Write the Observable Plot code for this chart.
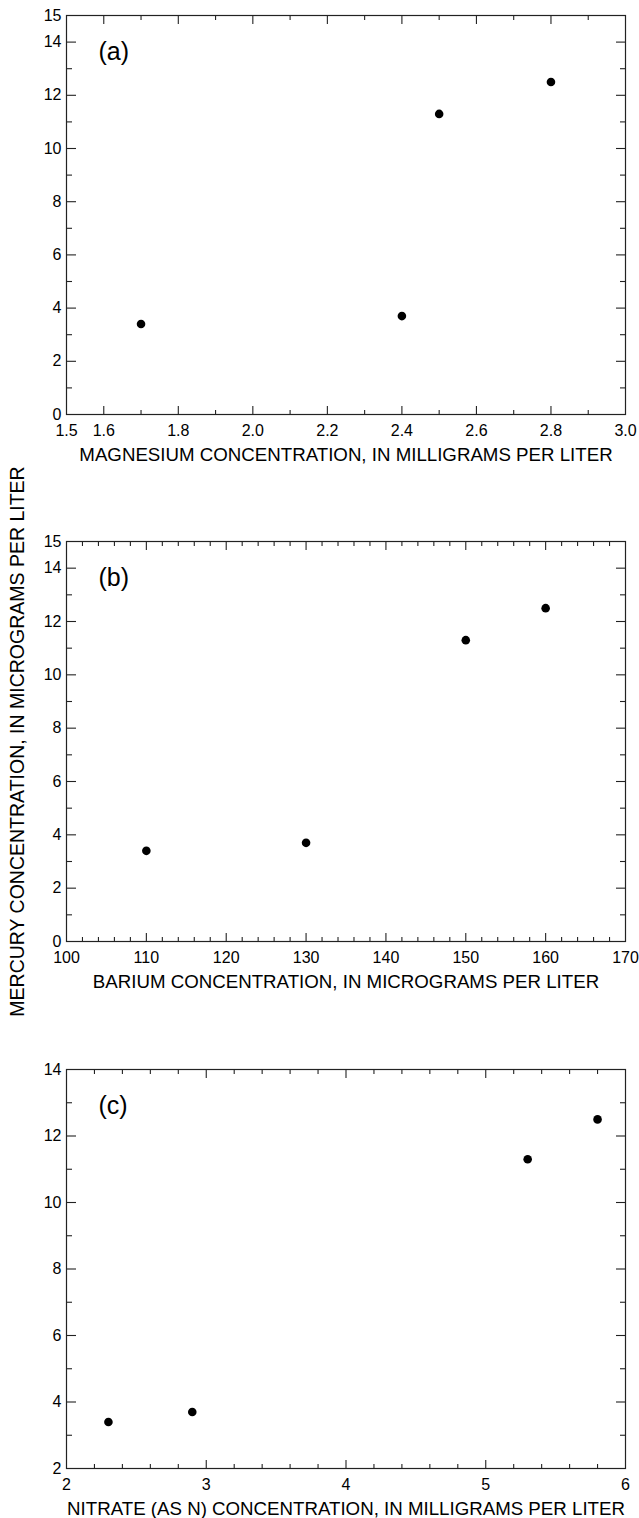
<!DOCTYPE html>
<html>
<head>
<meta charset="utf-8">
<script src="https://cdn.jsdelivr.net/npm/d3@7"></script>
<script src="https://cdn.jsdelivr.net/npm/@observablehq/plot@0.6"></script>
<style>
  html, body { margin: 0; padding: 0; background: #fff; }
  #chart { width: 639px; height: 1518px; position: relative; }
  #chart svg { display: block; }
</style>
</head>
<body>
<div id="chart"></div>
<script>
// Mercury concentration (micrograms per liter) for four samples
const mercury = [3.4, 3.7, 11.3, 12.5];
// Panel (a): magnesium, mg/L
const magnesium = [1.7, 2.4, 2.5, 2.8];
// Panel (b): barium, ug/L
const barium = [110, 130, 150, 160];
// Panel (c): nitrate as N, mg/L
const nitrate = [2.3, 2.9, 5.3, 5.8];

const panelLetters = ["(a)", "(b)", "(c)"];
const xTitles = [
  "MAGNESIUM CONCENTRATION, IN MILLIGRAMS PER LITER",
  "BARIUM CONCENTRATION, IN MICROGRAMS PER LITER",
  "NITRATE (AS N) CONCENTRATION, IN MILLIGRAMS PER LITER"
];
const yTitle = "MERCURY CONCENTRATION, IN MICROGRAMS PER LITER";

// Axis tick definitions
const aXDomain = [1.5, 3.0];
const aXLabels = [1.5, 1.6, 1.8, 2.0, 2.2, 2.4, 2.6, 2.8, 3.0];
const aXMajor = [1.6, 1.8, 2.0, 2.2, 2.4, 2.6, 2.8];
const aXMinor = [1.7, 1.9, 2.1, 2.3, 2.5, 2.7, 2.9];

const bXDomain = [100, 170];
const bXLabels = [100, 110, 120, 130, 140, 150, 160, 170];
const bXMajor = [110, 120, 130, 140, 150, 160];
const bXMinor = [102, 104, 106, 108, 112, 114, 116, 118, 122, 124, 126, 128,
  132, 134, 136, 138, 142, 144, 146, 148, 152, 154, 156, 158, 162, 164, 166, 168];

const cXDomain = [2, 6];
const cXLabels = [2, 3, 4, 5, 6];
const cXMajor = [3, 4, 5];
const cXMinor = [2.2, 2.4, 2.6, 2.8, 3.2, 3.4, 3.6, 3.8, 4.2, 4.4, 4.6, 4.8,
  5.2, 5.4, 5.6, 5.8];

const abYDomain = [0, 15];
const abYLabels = [0, 2, 4, 6, 8, 10, 12, 14, 15];
const abYMajor = [2, 4, 6, 8, 10, 12, 14];
const abYMinor = [1, 3, 5, 7, 9, 11, 13];

const cYDomain = [2, 14];
const cYLabels = [2, 4, 6, 8, 10, 12, 14];
const cYMajor = [4, 6, 8, 10, 12];
const cYMinor = [3, 5, 7, 9, 11, 13];

const FONT = "'Liberation Sans', Arial, Helvetica, sans-serif";
const INK = "#222";

function panel({xs, xDomain, xLabels, xMajor, xMinor, xFormat, yDomain, yLabels, yMajor, yMinor,
                letter, xTitle, height, marginBottom, withYTitle}) {
  const data = xs.map((x, i) => ({x, y: mercury[i]}));
  const t = {stroke: INK, fill: "none", label: null, strokeWidth: 1.1};
  const marks = [
    Plot.frame({stroke: INK, strokeWidth: 1.2}),
    // inward ticks on all four sides (tick drawn toward the inside of the frame)
    Plot.axisX(xMajor, {...t, anchor: "top", frameAnchor: "bottom", tickSize: 9}),
    Plot.axisX(xMinor, {...t, anchor: "top", frameAnchor: "bottom", tickSize: 5}),
    Plot.axisX(xMajor, {...t, anchor: "bottom", frameAnchor: "top", tickSize: 9}),
    Plot.axisX(xMinor, {...t, anchor: "bottom", frameAnchor: "top", tickSize: 5}),
    Plot.axisY(yMajor, {...t, anchor: "right", frameAnchor: "left", tickSize: 9}),
    Plot.axisY(yMinor, {...t, anchor: "right", frameAnchor: "left", tickSize: 5}),
    Plot.axisY(yMajor, {...t, anchor: "left", frameAnchor: "right", tickSize: 9}),
    Plot.axisY(yMinor, {...t, anchor: "left", frameAnchor: "right", tickSize: 5}),
    // tick labels
    Plot.axisX(xLabels, {anchor: "bottom", tickSize: 0, tickPadding: 10, tickFormat: xFormat,
      label: null, fill: "#000", fontSize: 16}),
    Plot.axisY(yLabels, {anchor: "left", tickSize: 0, tickPadding: 5, tickFormat: d3.format("d"),
      label: null, fill: "#000", fontSize: 16}),
    // points
    Plot.dot(data, {x: "x", y: "y", r: 4.3, fill: "#000", stroke: "none"}),
    // panel letter
    Plot.text([letter], {frameAnchor: "top-left", dx: 32, dy: 27, textAnchor: "start",
      lineAnchor: "top", fontSize: 25, fill: "#000"}),
    // x axis title
    Plot.text([xTitle], {frameAnchor: "bottom", dy: 33, lineAnchor: "top", fontSize: 18.7, fill: "#000"})
  ];
  if (withYTitle) {
    marks.push(Plot.text([yTitle], {frameAnchor: "left", dx: -49, rotate: -90, fontSize: 19.5,
      fill: "#000", textAnchor: "middle", lineAnchor: "middle"}));
  }
  return Plot.plot({
    width: 639,
    height,
    marginLeft: 66,
    marginRight: 14,
    marginTop: 15,
    marginBottom,
    style: {fontFamily: FONT, fontSize: "16px", color: "#000", background: "#fff", overflow: "visible"},
    x: {domain: xDomain},
    y: {domain: yDomain},
    marks
  });
}

const fmt1 = d3.format(".1f");
const fmtD = d3.format("d");
const chart = document.getElementById("chart");
chart.append(panel({xs: magnesium, xDomain: aXDomain, xLabels: aXLabels, xMajor: aXMajor, xMinor: aXMinor,
  xFormat: fmt1, yDomain: abYDomain, yLabels: abYLabels, yMajor: abYMajor, yMinor: abYMinor,
  letter: panelLetters[0], xTitle: xTitles[0], height: 526, marginBottom: 112}));
chart.append(panel({xs: barium, xDomain: bXDomain, xLabels: bXLabels, xMajor: bXMajor, xMinor: bXMinor,
  xFormat: fmtD, yDomain: abYDomain, yLabels: abYLabels, yMajor: abYMajor, yMinor: abYMinor,
  letter: panelLetters[1], xTitle: xTitles[1], height: 528, marginBottom: 113, withYTitle: true}));
chart.append(panel({xs: nitrate, xDomain: cXDomain, xLabels: cXLabels, xMajor: cXMajor, xMinor: cXMinor,
  xFormat: fmtD, yDomain: cYDomain, yLabels: cYLabels, yMajor: cYMajor, yMinor: cYMinor,
  letter: panelLetters[2], xTitle: xTitles[2], height: 464, marginBottom: 50}));
</script>
</body>
</html>
